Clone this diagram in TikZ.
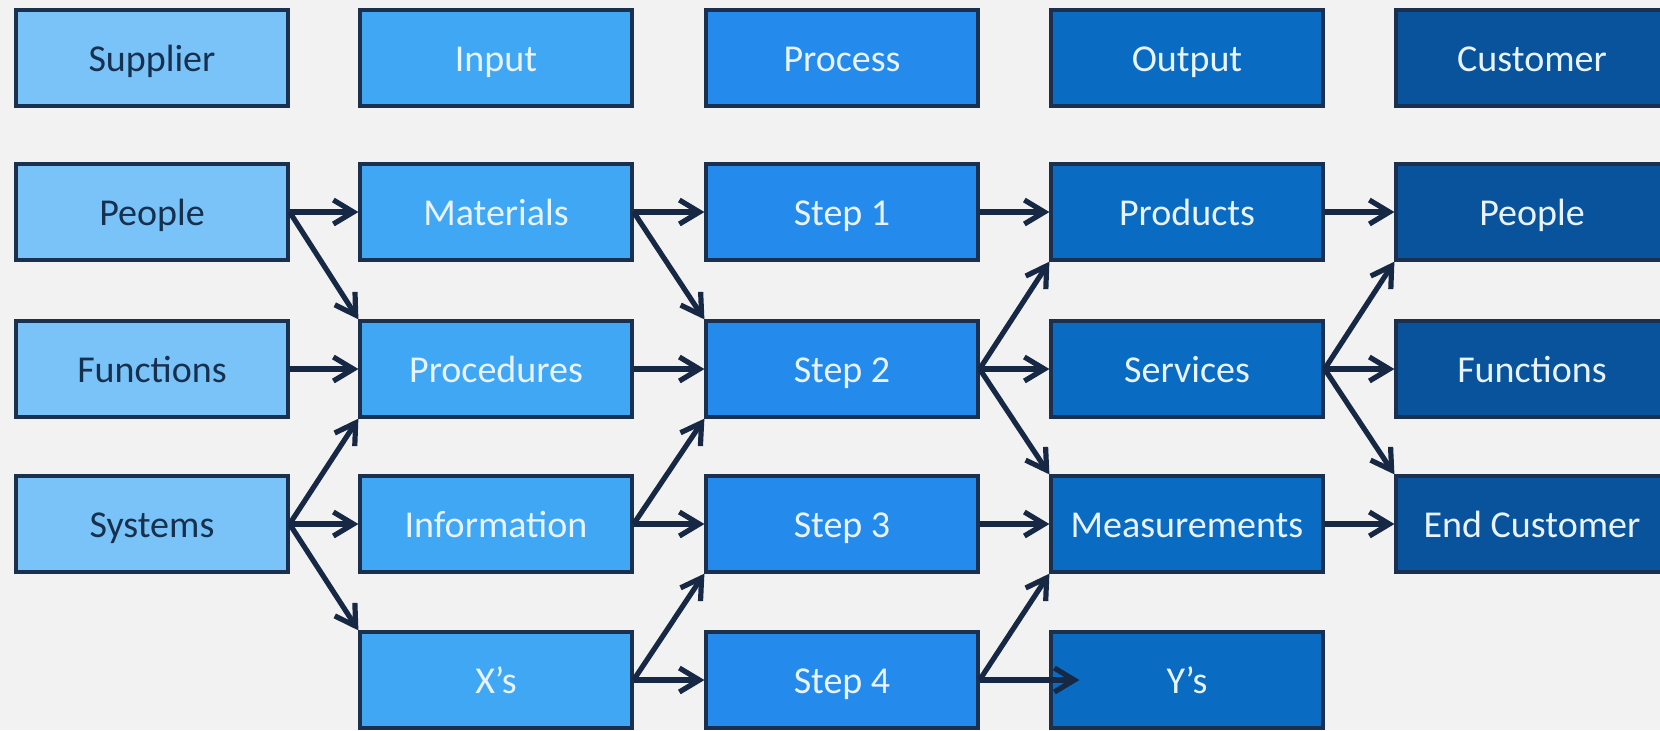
\documentclass[tikz,border=0pt]{standalone}
\usepackage{fontspec}
\setmainfont{Carlito}
\usetikzlibrary{arrows.meta}
\definecolor{bgc}{RGB}{242,242,242}
\definecolor{colA}{RGB}{122,195,248}
\definecolor{colB}{RGB}{64,167,245}
\definecolor{colC}{RGB}{36,139,236}
\definecolor{colD}{RGB}{10,107,194}
\definecolor{colE}{RGB}{8,83,156}
\definecolor{borderc}{RGB}{26,48,78}
\definecolor{arrowc}{RGB}{22,40,68}
\definecolor{darktext}{RGB}{22,48,78}
\definecolor{lighttext}{RGB}{232,243,255}
\begin{document}
\begin{tikzpicture}[x=0.5pt,y=-0.5pt,
  box/.style={draw=borderc, line width=1.6pt, minimum width=136pt, minimum height=48pt,
    inner sep=0pt, text height=1.35em, text depth=0pt,
    font=\fontsize{19}{22}\selectfont, text=lighttext},
  supbox/.style={box, fill=colA, text=darktext},
  inpbox/.style={box, fill=colB},
  probox/.style={box, fill=colC},
  outbox/.style={box, fill=colD},
  cusbox/.style={box, fill=colE},
  conn/.style={draw=arrowc, line width=2.6pt, -{Straight Barb[length=10pt,width=12pt]}}]
\useasboundingbox (0,0) rectangle (1660,730);
\fill[bgc] (0,0) rectangle (1660,730);
% headers
\node[supbox] (hS) at (152,58) {Supplier};
\node[inpbox] (hI) at (496,58) {Input};
\node[probox] (hP) at (842,58) {Process};
\node[outbox] (hO) at (1187,58) {Output};
\node[cusbox] (hC) at (1532,58) {Customer};
% supplier
\node[supbox] (s1) at (152,212) {People};
\node[supbox] (s2) at (152,369) {Functions};
\node[supbox] (s3) at (152,524) {Systems};
% input
\node[inpbox] (i1) at (496,212) {Materials};
\node[inpbox] (i2) at (496,369) {Procedures};
\node[inpbox] (i3) at (496,524) {Information};
\node[inpbox] (i4) at (496,680) {X’s};
% process
\node[probox] (p1) at (842,212) {Step 1};
\node[probox] (p2) at (842,369) {Step 2};
\node[probox] (p3) at (842,524) {Step 3};
\node[probox] (p4) at (842,680) {Step 4};
% output
\node[outbox] (o1) at (1187,212) {Products};
\node[outbox] (o2) at (1187,369) {Services};
\node[outbox] (o3) at (1187,524) {Measurements};
\node[outbox] (o4) at (1187,680) {Y’s};
% customer
\node[cusbox] (c1) at (1532,212) {People};
\node[cusbox] (c2) at (1532,369) {Functions};
\node[cusbox] (c3) at (1532,524) {End Customer};
% connectors: supplier -> input
\draw[conn] (s1.east) -- (i1.west);
\draw[conn] (s1.east) -- (i2.north west);
\draw[conn] (s2.east) -- (i2.west);
\draw[conn] (s3.east) -- (i2.south west);
\draw[conn] (s3.east) -- (i3.west);
\draw[conn] (s3.east) -- (i4.north west);
% input -> process
\draw[conn] (i1.east) -- (p1.west);
\draw[conn] (i1.east) -- (p2.north west);
\draw[conn] (i2.east) -- (p2.west);
\draw[conn] (i3.east) -- (p2.south west);
\draw[conn] (i3.east) -- (p3.west);
\draw[conn] (i4.east) -- (p3.south west);
\draw[conn] (i4.east) -- (p4.west);
% process -> output
\draw[conn] (p1.east) -- (o1.west);
\draw[conn] (p2.east) -- (o1.south west);
\draw[conn] (p2.east) -- (o2.west);
\draw[conn] (p2.east) -- (o3.north west);
\draw[conn] (p3.east) -- (o3.west);
\draw[conn] (p4.east) -- (o3.south west);
\coordinate (ytip) at ([xshift=15pt]o4.west);
\draw[conn] (p4.east) -- (ytip);
% output -> customer
\draw[conn] (o1.east) -- (c1.west);
\draw[conn] (o2.east) -- (c1.south west);
\draw[conn] (o2.east) -- (c2.west);
\draw[conn] (o2.east) -- (c3.north west);
\draw[conn] (o3.east) -- (c3.west);
\end{tikzpicture}
\end{document}
